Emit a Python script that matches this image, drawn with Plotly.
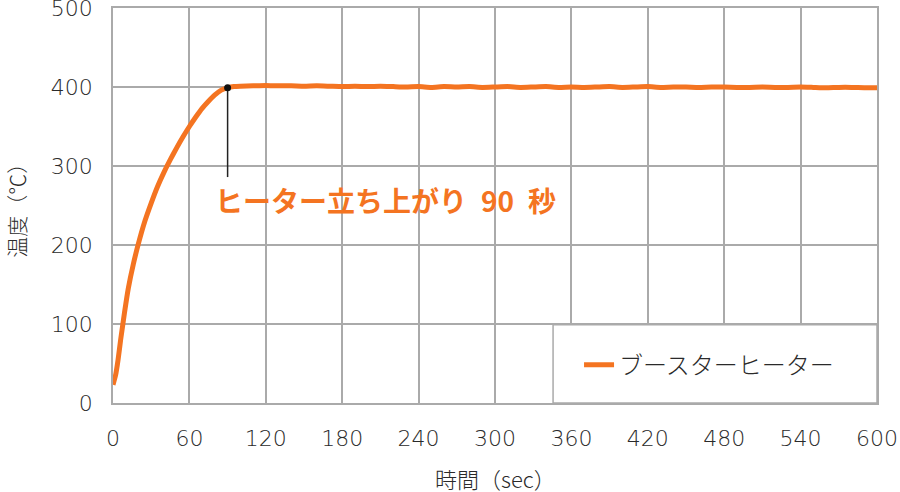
import plotly.graph_objects as go

# ---- data ----
time_sec = [0, 2, 4, 6, 9, 12, 16, 20, 25, 30, 35, 40, 45, 50, 55, 60, 65, 70, 75, 80, 85, 90, 95, 100,
            110, 120, 130, 140, 150, 160, 170, 180, 190, 200, 210, 220, 230, 240, 250, 260, 270, 280,
            290, 300, 310, 320, 330, 340, 350, 360, 370, 380, 390, 400, 410, 420, 430, 440, 450, 460,
            470, 480, 490, 500, 510, 520, 530, 540, 550, 560, 570, 580, 590, 600]
temp_c = [23, 35, 55, 80, 114, 145, 176, 202, 230, 253, 274, 292, 308, 323, 337, 350, 362, 373, 382, 390, 396, 399, 400.5, 401,
          401.5, 402, 401.5, 401.5, 401, 401.5, 401, 400.5, 401, 400.5, 401, 400.5, 400, 400.5, 399.5, 400.5, 400, 400.5,
          399.5, 400, 400.5, 399.5, 400, 400.5, 399.5, 400, 399.5, 400, 400.5, 399.5, 400, 400.5, 399.5, 400, 400, 399.5,
          400, 400, 399.5, 399.5, 400, 399.5, 399.5, 400, 399.5, 399, 399.5, 399.5, 399, 399]
series_name = "ブースターヒーター"
rise_time = 90
rise_temp = 399
leader_bottom = 286
annot_text = "ヒーター立ち上がり\u200290\u2002秒"
x_ticks = [0, 60, 120, 180, 240, 300, 360, 420, 480, 540, 600]
y_ticks = [0, 100, 200, 300, 400, 500]
x_title = "時間（sec）"
y_title = "温度（℃）"

ORANGE = "#F47421"
GRID = "#AAAAAA"
TEXT = "#2a2a2a"
FONT = "Noto Sans CJK JP"
NUMFONT = "DejaVu Sans"

fig = go.Figure()
fig.add_trace(go.Scatter(
    x=time_sec, y=temp_c, mode="lines", name=series_name,
    line=dict(color=ORANGE, width=5, shape="spline", smoothing=0.5),
))
# annotation leader line
fig.add_trace(go.Scatter(
    x=[rise_time, rise_time], y=[rise_temp, leader_bottom], mode="lines",
    line=dict(color="#222222", width=1.5), showlegend=False, hoverinfo="skip",
))
fig.add_trace(go.Scatter(
    x=[rise_time], y=[rise_temp], mode="markers",
    marker=dict(color="#111111", size=7), showlegend=False, hoverinfo="skip",
))

fig.add_annotation(x=78.5, y=257, xref="x", yref="y", text="<b>" + annot_text + "</b>",
                   showarrow=False, xanchor="left", yanchor="middle",
                   font=dict(family=FONT, size=28, color=ORANGE))
fig.add_annotation(x=0.5, y=-0.19, xref="paper", yref="paper", text=x_title, showarrow=False,
                   xanchor="center", yanchor="middle",
                   font=dict(family=FONT, size=22, color=TEXT, weight=300))
fig.add_annotation(x=-0.128, y=0.5, xref="paper", yref="paper", text=y_title, showarrow=False,
                   textangle=-90, xanchor="center", yanchor="middle",
                   font=dict(family=FONT, size=21, color=TEXT, weight=300))

# legend box
fig.add_shape(type="rect", xref="paper", yref="paper", x0=0.576, x1=1, y0=0, y1=0.198,
              fillcolor="white", line=dict(color=GRID, width=1.5), layer="above")

fig.update_layout(
    width=900, height=492,
    margin=dict(l=113, r=23, t=7.5, b=89, autoexpand=False),
    paper_bgcolor="white", plot_bgcolor="white",
    font=dict(family=FONT, color=TEXT, size=20),
    showlegend=True,
    legend=dict(x=0.610, y=0.096, xanchor="left", yanchor="middle",
                bgcolor="rgba(0,0,0,0)", borderwidth=0,
                font=dict(family=FONT, size=24, color=TEXT, weight=300)),
)
fig.update_xaxes(range=[0, 600], tickvals=x_ticks, showgrid=True, gridcolor=GRID, gridwidth=1.5,
                 showline=True, linecolor=GRID, linewidth=1.5, mirror=True, zeroline=False,
                 automargin=False, ticks="", ticklabeloverflow="allow",
                 tickfont=dict(family=NUMFONT, size=22, color=TEXT, weight=300), ticklabelstandoff=15)
fig.update_yaxes(range=[0, 500], tickvals=y_ticks, showgrid=True, gridcolor=GRID, gridwidth=1.5,
                 showline=True, linecolor=GRID, linewidth=1.5, mirror=True, zeroline=False,
                 automargin=False, ticks="", ticklabeloverflow="allow",
                 tickfont=dict(family=NUMFONT, size=22, color=TEXT, weight=300), ticklabelstandoff=14)

fig.write_html("out.html", config={"displayModeBar": False},
               post_script="document.body.style.margin='0';document.body.style.overflow='hidden';")
